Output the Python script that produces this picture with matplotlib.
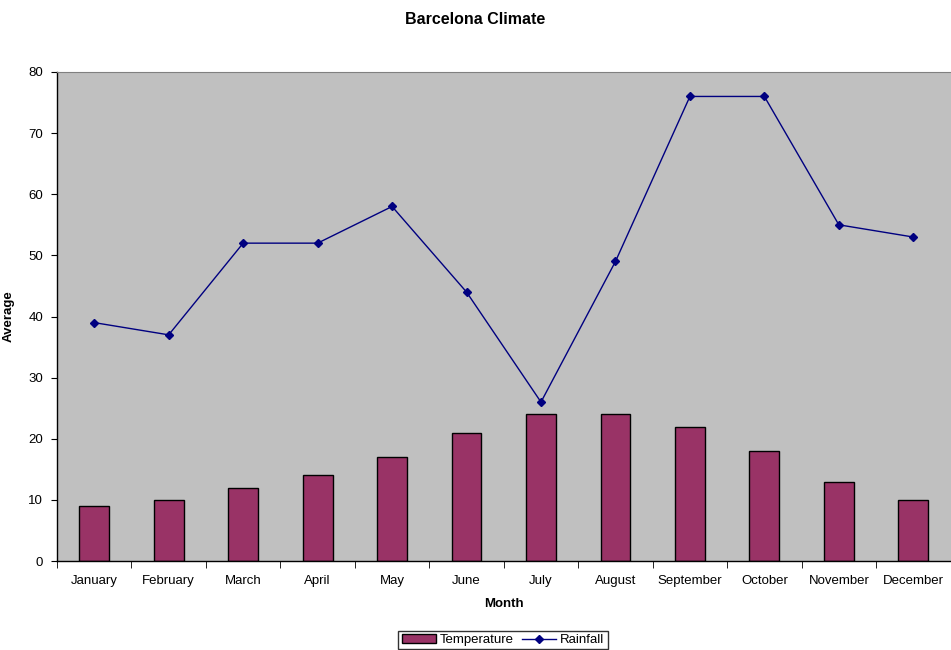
import matplotlib
matplotlib.use("Agg")
import matplotlib.pyplot as plt
import numpy as np

plt.rcParams['font.family'] = ['Liberation Sans', 'DejaVu Sans']

months = ["January", "February", "March", "April", "May", "June", "July",
          "August", "September", "October", "November", "December"]
temperature = [9, 10, 12, 14, 17, 21, 24, 24, 22, 18, 13, 10]
rainfall = [39, 37, 52, 52, 58, 44, 26, 49, 76, 76, 55, 53]
yticks = [0, 10, 20, 30, 40, 50, 60, 70, 80]

fig = plt.figure(figsize=(9.51, 6.5), dpi=100)
ax = fig.add_axes([57/951, 1-561/650, 1-57/951 - 0.0005, (561-72)/650])
ax.set_facecolor('#C0C0C0')

x = np.arange(len(months))
bars = ax.bar(x, temperature, width=0.4, color='#993366', edgecolor='black',
              linewidth=1.0, label='Temperature', zorder=2)
line, = ax.plot(x, rainfall, color='#000080', linewidth=1.0, marker='D',
                markersize=4, label='Rainfall', zorder=3)

ax.set_xlim(-0.5, len(months) - 0.5)
ax.set_ylim(0, 80)
ax.set_yticks(yticks)
ax.set_yticklabels([str(v) for v in yticks], fontsize=9.5)
ax.set_xticks(x)
ax.set_xticklabels(months, fontsize=9.5)
ax.tick_params(axis='x', length=0, pad=10)
ax.set_xticks(np.arange(-0.5, len(months)), minor=True)
ax.tick_params(axis='x', which='minor', length=5, direction='out', color='black')
ax.tick_params(axis='y', length=4, direction='out', color='black', pad=6)

for s in ['left', 'bottom']:
    ax.spines[s].set_color('black')
    ax.spines[s].set_linewidth(1.0)
ax.spines['top'].set_color('#808080')
ax.spines['right'].set_visible(False)

ax.set_xlabel('Month', fontsize=9.5, fontweight='bold', labelpad=8)
ax.set_ylabel('Average', fontsize=9.5, fontweight='bold', labelpad=10)
fig.suptitle('Barcelona Climate', fontsize=11.5, fontweight='bold', y=0.984,
             va='center')
fig.texts[-1].set_position((0.5, 1-19/650))

leg = fig.legend([bars, line], ['Temperature', 'Rainfall'], loc='center',
                 bbox_to_anchor=(503/951, 1-640/650), ncol=2,
                 fontsize=9.5, frameon=True, fancybox=False, edgecolor='black',
                 handlelength=2.6, handletextpad=0.3, columnspacing=0.6,
                 borderpad=0.25)
leg.get_frame().set_linewidth(1.0)

fig.savefig('out.png', dpi=100)
